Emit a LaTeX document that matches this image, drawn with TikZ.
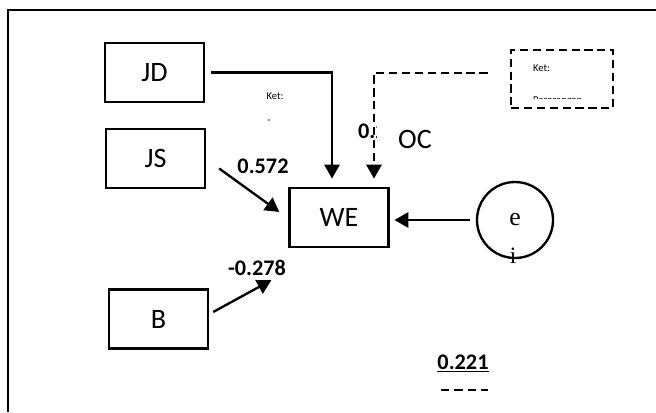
\documentclass[tikz,border=0pt]{standalone}
\usepackage{fontspec}
\setmainfont{Carlito}
\newfontfamily\serfont{Liberation Serif}
\usepackage{tikz}
\usetikzlibrary{arrows.meta,calc,positioning}

\begin{document}
\begin{tikzpicture}[x=0.03cm, y=-0.03cm, line width=2pt, >={Triangle[length=12pt,width=13pt]}]
  \tikzstyle{var} = [rectangle, draw, minimum width=2.97cm, minimum height=1.77cm, inner sep=0pt, font=\fontsize{24}{28}\selectfont]
  \tikzstyle{coef} = [font=\fontsize{19}{22}\selectfont\bfseries, inner sep=0pt]
  \tikzstyle{note} = [font=\fontsize{9}{10}\selectfont, inner sep=0pt]
  \tikzstyle{dashline} = [dash pattern=on 7pt off 4pt]

  \useasboundingbox (0,0) rectangle (656,412);
  % frame
  \draw (8,412) -- (8,10) -- (656,10);

  \node[var] (jd) at (154.5,72.5) {JD};
  \node[var] (js) at (155.5,158.5) {JS};
  \node[var] (b) at (158.5,319) {B};
  \node[var] (we) at (339,217.5) {WE};

  \node[circle, draw, minimum size=2.28cm, inner sep=0pt, font=\serfont\fontsize{22}{26}\selectfont] (e) at (515,220) {e};
  \node[inner sep=0pt, font=\serfont\fontsize{20}{24}\selectfont] (ei) at (513,256) {i};

  \node[rectangle, draw, dashline, minimum width=3.06cm, minimum height=1.74cm] (ket) at (562,79) {};
  \node[note, anchor=west] (ketA) at (532,68) {Ket:};
  \begin{scope}
    \clip (520,60) rectangle (600,98.5);
    \node[note, anchor=base west] (ketB) at (532,103) {Perorangan};
  \end{scope}

  \node[note] (ketC) at (275,96) {Ket:};
  \node[note] (ketD) at (269,122) {-};

  \node[coef] (c1) at (263,166) {0.572};
  \node[coef] (c2) at (257,268) {-0.278};
  \node[coef] (c4) at (463,363) {\underline{0.221}};
  \begin{scope}
    \clip (350,118) rectangle (376,146);
    \node[coef, anchor=west] (c3) at (357,131) {0.2};
  \end{scope}
  \node[font=\fontsize{24}{28}\selectfont, inner sep=0pt] (oc) at (415,139) {OC};

  \draw[->, shorten <=5pt, shorten >=7pt] (jd.east) -| ($(we.north)+(-7,0)$);
  \draw[->, dashline, shorten <=19pt, shorten >=7pt] ($(ket.west)+(0,-6)$) -| ($(we.north)+(35,0)$);
  \draw[->] ($(js.east)+(13,10)$) -- ($(we.west)+(-9,-5.5)$);
  \draw[->] ($(b.east)+(4,-7)$) -- ($(we.south west)+(-17,32)$);
  \draw[->, shorten <=5pt, shorten >=4pt] (e.west) -- (e.west -| we.east);

  \draw[dash pattern=on 7pt off 4.5pt] (441,390) -- (488,390);
\end{tikzpicture}
\end{document}
